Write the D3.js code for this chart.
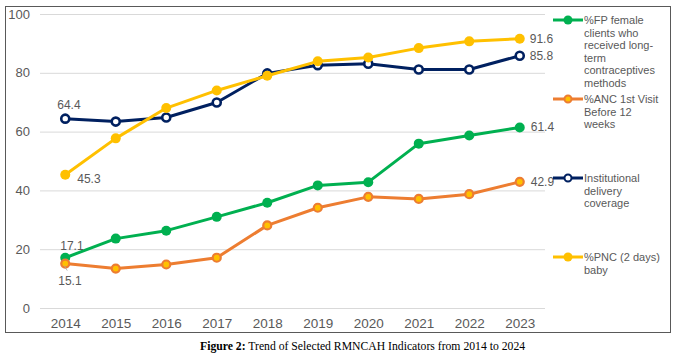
<!DOCTYPE html>
<html><head><meta charset="utf-8">
<script src="https://cdn.jsdelivr.net/npm/d3@7"></script>
<style>body{margin:0;background:#fff}svg{display:block}</style>
</head><body>
<svg id="c" width="676" height="364"></svg>
<script>
const years = [2014,2015,2016,2017,2018,2019,2020,2021,2022,2023];
const yTicks = [0,20,40,60,80,100];
const fpValues = [17.1,23.6,26.3,31.0,35.8,41.7,42.8,55.9,58.7,61.4];
const ancValues = [15.1,13.4,14.8,17.1,28.1,34.1,37.8,37.1,38.7,42.9];
const instValues = [64.4,63.4,64.8,69.9,79.8,82.6,83.1,81.1,81.1,85.8];
const pncValues = [45.3,57.7,68.0,74.0,79.0,83.9,85.2,88.4,90.7,91.6];
const seriesNames = [
  ["%FP female","clients who","received long-","term","contraceptives","methods"],
  ["%ANC 1st Visit","Before 12","weeks"],
  ["Institutional","delivery","coverage"],
  ["%PNC (2 days)","baby"]
];
const caption = ["Figure 2:", " Trend of Selected RMNCAH Indicators from 2014 to 2024"];

const series = [
  {values: fpValues, color:"#00B050", fill:"#00B050", r:5, sw:0, name:seriesNames[0], legY:20},
  {values: ancValues, color:"#ED7D31", fill:"#FFC000", r:4, sw:2.2, name:seriesNames[1], legY:99},
  {values: instValues, color:"#002060", fill:"#ffffff", r:4, sw:2.6, name:seriesNames[2], legY:178},
  {values: pncValues, color:"#FFC000", fill:"#FFC000", r:5, sw:0, name:seriesNames[3], legY:257}
];

const svg = d3.select("#c");
const x = d3.scalePoint().domain(years).range([40,545]).padding(0.5);
const y = d3.scaleLinear().domain([0,100]).range([308,14]);

svg.append("rect").attr("x",5.5).attr("y",6.5).attr("width",665).attr("height",326)
  .attr("fill","none").attr("stroke","#595959").attr("stroke-width",1);

const grid = svg.append("g").attr("transform","translate(40,0)")
  .call(d3.axisLeft(y).tickValues(yTicks).tickSize(-505).tickFormat(d=>d).tickPadding(10));
grid.select(".domain").remove();
grid.selectAll(".tick line").attr("stroke","#d9d9d9").attr("stroke-width",1);
grid.selectAll(".tick text").attr("fill","#595959").attr("font-family","Liberation Sans, Arial, sans-serif").attr("font-size","13px");

const xa = svg.append("g").attr("transform","translate(0,308)")
  .call(d3.axisBottom(x).tickSize(0).tickPadding(10).tickFormat(d=>d));
xa.select(".domain").remove();
xa.selectAll(".tick text").attr("fill","#595959").attr("font-family","Liberation Sans, Arial, sans-serif").attr("font-size","13.5px");

const line = d3.line().x((d,i)=>x(years[i])).y(d=>y(d));
series.forEach(s=>{
  const g = svg.append("g");
  g.append("path").datum(s.values).attr("d",line).attr("fill","none")
    .attr("stroke",s.color).attr("stroke-width",3).attr("stroke-linejoin","round");
  g.selectAll("circle").data(s.values).join("circle")
    .attr("cx",(d,i)=>x(years[i])).attr("cy",d=>y(d)).attr("r",s.r)
    .attr("fill",s.fill).attr("stroke",s.color).attr("stroke-width",s.sw);
});

const lab = svg.append("g").attr("font-family","Liberation Sans, Arial, sans-serif").attr("font-size","12px").attr("fill","#595959");
const last = years.length-1;
const fmt = d3.format(".1f");
lab.append("text").attr("x",x(years[0])-8).attr("y",y(instValues[0])-10).text(fmt(instValues[0]));
lab.append("text").attr("x",x(years[0])+12).attr("y",y(pncValues[0])+8).text(fmt(pncValues[0]));
lab.append("text").attr("x",x(years[0])-5).attr("y",y(fpValues[0])-8).text(fmt(fpValues[0]));
lab.append("text").attr("x",x(years[0])-7).attr("y",y(ancValues[0])+21).text(fmt(ancValues[0]));
svg.append("line").attr("x1",x(years[0])-1).attr("y1",y(ancValues[0])+2).attr("x2",x(years[0])+2).attr("y2",y(ancValues[0])+7).attr("stroke","#a6a6a6").attr("stroke-width",0.8);
lab.append("text").attr("x",x(years[last])+10).attr("y",y(pncValues[last])+4).text(fmt(pncValues[last]));
lab.append("text").attr("x",x(years[last])+10).attr("y",y(instValues[last])+4).text(fmt(instValues[last]));
lab.append("text").attr("x",x(years[last])+11).attr("y",y(fpValues[last])+4).text(fmt(fpValues[last]));
lab.append("text").attr("x",x(years[last])+11).attr("y",y(ancValues[last])+4).text(fmt(ancValues[last]));

const leg = svg.append("g").attr("font-family","Liberation Sans, Arial, sans-serif").attr("font-size","11px").attr("fill","#595959");
series.forEach(s=>{
  leg.append("line").attr("x1",553).attr("x2",583).attr("y1",s.legY).attr("y2",s.legY)
    .attr("stroke",s.color).attr("stroke-width",3);
  leg.append("circle").attr("cx",568).attr("cy",s.legY).attr("r",s.r-0.5)
    .attr("fill",s.fill).attr("stroke",s.color).attr("stroke-width",s.sw?2:0);
  const t = leg.append("text").attr("x",584).attr("y",s.legY+4);
  s.name.forEach((ln,i)=>t.append("tspan").attr("x",584).attr("dy",i?12.5:0).text(ln));
});

const cap = svg.append("text").attr("x",200).attr("y",350).attr("font-family","Liberation Serif, Times New Roman, serif").attr("font-size","11.7px").attr("fill","#000");
cap.append("tspan").attr("font-weight","bold").text(caption[0]);
cap.append("tspan").text(caption[1]);
</script>
</body></html>
